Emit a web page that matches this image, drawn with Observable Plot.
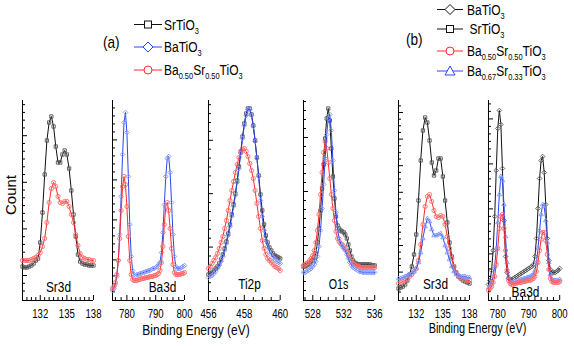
<!DOCTYPE html>
<html><head><meta charset="utf-8">
<script src="https://cdn.jsdelivr.net/npm/d3@7"></script>
<script src="https://cdn.jsdelivr.net/npm/@observablehq/plot@0.6"></script>
<style>
body{margin:0;background:#fff;}
#chart{position:relative;width:574px;height:346px;overflow:hidden;background:#fff;}
#chart svg{position:absolute;overflow:visible;}
</style></head><body><div id="chart"></div>
<script>
const FONT = '"Liberation Sans",Arial,sans-serif';

// ---------- energy grids (eV) ----------
const sr3dEnergy = d3.range(33).map(i => +(130 + i * 0.25).toFixed(2));
const ba3dAEnergy = d3.range(51).map(i => +(775 + i * 0.5).toFixed(1));
const ti2pEnergy = d3.range(41).map(i => +(456 + i * 0.1).toFixed(1));
const o1sEnergy = d3.range(47).map(i => +(526.8 + i * 0.2).toFixed(1));
const ba3dBEnergy = d3.range(47).map(i => +(777 + i * 0.5).toFixed(1));

// ---------- (a) Sr3d ----------
const sr3dA_SrTiO3 = [17,16.5,16.5,17,17.5,18.5,20,21,29,44,63,80,89,92,87,77,69,69,73,75,73,66,55,43,32,23,19.5,18.5,18,18,17.5,17.5,17.5];
const sr3dA_BST50 = [20,20,20,20,20.5,21,21.5,22.5,24,27,31,39,49,56,59,57,52,49,48.5,49.5,49.5,47,43,39,33,27.5,23.5,21.5,21,20.5,20.5,20,20];

// ---------- (a) Ba3d ----------
const ba3dA_BaTiO3 = [5,6,8,12,20,33,52,73,89,94,84,62,38,22,15,13,12.5,13,13,13.5,13.5,14,14,14.5,14.5,15,15,15.5,16,16,16.5,17,18,19,24,34,48,62,71,72,64,49,33,22,17,16,16,16,16.5,17,17.5];
const ba3dA_BST50 = [6,7,9,13,20,31,45,57,62,58,47,32,20,13,10.5,10,10,10,10.5,10.5,11,11,11,11.5,11.5,11.5,12,12,12,12.5,12.5,13,13.5,15,19,27,38,47,49,45,36,26,18,14,13,13,13,13,13.5,13.5,14];

// ---------- (a) Ti2p ----------
const ti2p_SrTiO3 = [13,13.5,14,15,16,17,18.5,20.5,23,26,29.5,33.5,38,43,48,53.5,60,67,74.5,82,88.5,93.5,96,96,93,87.5,80,71.5,62.5,53,45,38,32.5,29,26.5,25,23.5,22.5,22,21.5,21];
const ti2p_BaTiO3 = [11.5,12,12.5,13.5,14.5,16,17.5,19.5,22,25,28.5,32.5,37,42,47,52.5,59,66,73.5,81,87.5,92.5,95.5,95.5,92.5,87,79.5,71,62,50,42,35,30,27,24.5,23,21.5,20.5,19.5,19,18.5];
const ti2p_BST50 = [16,17,18.5,20,21.5,23.5,26,29,32,36,40,45,50,55,59.5,64,68,71.5,74,75.5,76,74.5,72,68.5,65,61,55,48.5,42,36,30,26,23,21,20,19,18,17,16.5,16,15];

// ---------- (a) O1s ----------
const o1s_SrTiO3 = [17,17,17.5,18,18.5,19.5,20,21.5,23.5,29,36,45,56,68,81,91,96,90,76,62,51,42,37.5,36,35,34.5,34,33,31,28,25,22,20,19,18.5,18,18,18,18,18,18,18,18,18,17.5,17.5,17.5];
const o1s_BaTiO3 = [14,14,14.5,15,15.5,16,17,18,19.5,22,27,35,46,58,71,83,91,93,85,70,55,44,36,31,28.5,27,26,25,23,21,19,17.5,16.5,16,15.5,15,14.5,14.5,14,14,14,14,14,14,14,14,14];
const o1s_BST50 = [17.5,18,18.5,19,20,21,22.5,25,29,35,43,53,64,74,79.5,76,69,61,53,46,40,34.5,31,29.5,28.5,28,27,26,24.5,22.5,21,19.5,18.5,18,17.5,17,17,16.5,16.5,16.5,16.5,16.5,16.5,16.5,16.5,16.5,16.5];

// ---------- (b) Sr3d ----------
const sr3dB_SrTiO3 = [6,6.5,7,8,10,13,17,23,33,50,70,85,91.5,89,80,69,62.5,65,71,71,62,50,39,29,22,17,14,12,11,10,9.5,9,8.5];
const sr3dB_BST50 = [8.5,9,9.5,10,11,12,13,14.5,16,20,28,38,47,52,53,49.5,45,42,41.5,42.5,42,38,32,26,21,17,14,12.5,11.5,11,10.5,10,10];
const sr3dB_BST67 = [11,11,11.5,12,12.5,13,13.5,14.5,16,19,24,31,37,41,39.5,35.5,32.5,32.5,33,33.5,31.5,27.5,24,20.5,17,14.5,13,12.5,12,12,12,11.5,11.5];

// ---------- (b) Ba3d ----------
const ba3dB_BaTiO3 = [8,10,15,25,42,65,86,95,88,66,40,22,14,11,10.5,10.5,11,11.5,12,12.5,13,13.5,14,14.5,15,15.5,16,16.5,17,18,22,31,46,61,70,72,64,48,31,20,15.5,14,14,14,14.5,15,16];
const ba3dB_BST67 = [6.5,7.5,9,12,17,26,39,53,62,60,48,32,19,12,9.5,9,9,9.5,9.5,10,10,10.5,10.5,11,11,11.5,11.5,12,12.5,13,15,19,26,35,43,48,47,40,29,19,13,10.5,10,10,10,10,10.5];
const ba3dB_BST50 = [5,6,7,9,12,18,26,36,42,43,36,25,15,10,8.5,8,8,8.5,8.5,9,9,9,9.5,9.5,9.5,10,10,10,10.5,11,12,14.5,19,25,30.5,34,34,30,23,15.5,11,9.5,9,9,9,9,9.5];

// ---------- tick labels ----------
const sr3dTicks = [132, 135, 138];
const ba3dTicks = [780, 790, 800];
const ti2pTicks = [456, 458, 460];
const o1sTicks = [528, 532, 536];
const panelNames = ["Sr3d", "Ba3d", "Ti2p", "O1s", "Sr3d", "Ba3d"];

// ---------- styles ----------
const STY = {
  black: {line: "#111", mark: "#555"},
  blue: {line: "#2a48ee", mark: "#7d95ff"},
  red: {line: "#ff2a2a", mark: "#ff6b6b"}
};

const panels = [
  {L: 22, R: 93, domain: [130, 138], ticks: sr3dTicks, minor: 0.5, y0: 12.5, ys: 23.3, yn: 6, lx: 36, ly: 9,
   series: [[sr3dEnergy, sr3dA_SrTiO3, "black", "square2"], [sr3dEnergy, sr3dA_BST50, "red", "circle"]]},
  {L: 112.3, R: 184.3, domain: [775, 800], ticks: ba3dTicks, minor: 2, y0: 20.3, ys: 20, yn: 5, lx: 50, ly: 9,
   series: [[ba3dAEnergy, ba3dA_BaTiO3, "blue", "diamond2"], [ba3dAEnergy, ba3dA_BST50, "red", "circle"]]},
  {L: 208.3, R: 280, domain: [456, 460], ticks: ti2pTicks, minor: 0.5, y0: 26.7, ys: 26.7, yn: 6, lx: 41, ly: 11,
   series: [[ti2pEnergy, ti2p_SrTiO3, "black", "square2"], [ti2pEnergy, ti2p_BST50, "red", "circle"], [ti2pEnergy, ti2p_BaTiO3, "blue", "diamond2"]]},
  {L: 303.3, R: 374.5, domain: [526.8, 536], ticks: o1sTicks, minor: 1, y0: 27.5, ys: 27, yn: 6, lx: 35, ly: 11,
   series: [[o1sEnergy, o1s_SrTiO3, "black", "square2"], [o1sEnergy, o1s_BST50, "red", "circle"], [o1sEnergy, o1s_BaTiO3, "blue", "diamond2"]]},
  {L: 398.3, R: 469.3, domain: [130, 138], ticks: sr3dTicks, minor: 0.5, y0: 14.2, ys: 13.3, yn: 4, lx: 37, ly: 12,
   series: [[sr3dEnergy, sr3dB_SrTiO3, "black", "square2"], [sr3dEnergy, sr3dB_BST50, "red", "circle"], [sr3dEnergy, sr3dB_BST67, "blue", "triangle2"]]},
  {L: 488.3, R: 559.5, domain: [777, 800], ticks: ba3dTicks, minor: 2, y0: 23.3, ys: 22.5, yn: 6, lx: 37, ly: 3,
   series: [[ba3dBEnergy, ba3dB_BaTiO3, "black", "diamond2"], [ba3dBEnergy, ba3dB_BST67, "blue", "triangle2"], [ba3dBEnergy, ba3dB_BST50, "red", "circle"]]}
];

const chart = document.getElementById("chart");
const ML = 14, MR = 14, MT = 5, MB = 30, TOP = 100, H = 200;

function squeeze(t, s, mode) {
  const bb = t.getBBox();
  const cx = mode === "start" ? bb.x : bb.x + bb.width / 2;
  const tr = t.getAttribute("transform") || "";
  t.setAttribute("transform", `${tr} translate(${cx},0) scale(${s},1) translate(${-cx},0)`);
}

panels.forEach((p, pi) => {
  const w = p.R - p.L;
  const span = p.domain[1] - p.domain[0];
  const px2x = span / w;
  const px2y = 100 / H;
  const yMajor = d3.range(0, 10).map(i => p.y0 + i * p.ys).filter(v => v <= 100);
  const yMinorAll = d3.range(-p.yn, 10 * p.yn).map(i => p.y0 + i * p.ys / p.yn).filter(v => v > 1 && v <= 100);
  const yMinor = yMinorAll.filter(v => !yMajor.some(m => Math.abs(m - v) < 0.01));
  const xAll = d3.range(Math.ceil(p.domain[0] / p.minor), Math.floor(p.domain[1] / p.minor) + 1).map(i => +(i * p.minor).toFixed(2));
  const xMinor = xAll.filter(v => !p.ticks.includes(v) && v > p.domain[0]);

  const marks = [
    Plot.ruleX([p.domain[0]], {y1: 0, y2: 100, stroke: "#000", strokeWidth: 1}),
    Plot.ruleY([0], {stroke: "#000", strokeWidth: 1}),
    Plot.ruleY(yMajor, {x1: p.domain[0], x2: p.domain[0] + 5 * px2x, stroke: "#000"}),
    Plot.ruleY(yMinor, {x1: p.domain[0], x2: p.domain[0] + 3 * px2x, stroke: "#000"}),
    Plot.ruleX(p.ticks, {y1: 0, y2: 5 * px2y, stroke: "#000"}),
    Plot.ruleX(xMinor, {y1: 0, y2: 3 * px2y, stroke: "#000"}),
    Plot.axisX({ticks: p.ticks, tickSize: 0, tickPadding: 8, fontSize: 13, tickFormat: d => String(d), label: null})
  ];
  p.series.forEach(([xs, ys, col, sym]) => {
    const rows = ys.map((v, i) => ({x: xs[i], y: v}));
    marks.push(Plot.line(rows, {x: "x", y: "y", stroke: STY[col].line, strokeWidth: 1}));
    marks.push(Plot.dot(rows, {x: "x", y: "y", symbol: sym, r: 2.1, stroke: STY[col].mark, strokeWidth: 0.9, fill: "none"}));
  });
  marks.push(Plot.text([panelNames[pi]], {frameAnchor: "bottom-left", dx: p.lx, dy: -p.ly, text: d => d, fontSize: 14.5, textAnchor: "middle", fill: "#000"}));

  const svg = Plot.plot({
    width: w + ML + MR, height: H + MT + MB,
    marginLeft: ML, marginRight: MR, marginTop: MT, marginBottom: MB,
    x: {domain: p.domain, axis: null},
    y: {domain: [0, 100], axis: null},
    style: {fontFamily: FONT, background: "transparent", color: "#000", fontSize: "13px"},
    marks
  });
  svg.style.left = (p.L - ML) + "px";
  svg.style.top = (TOP - MT) + "px";
  chart.appendChild(svg);
  svg.querySelectorAll("text").forEach(t => squeeze(t, t.textContent.length <= 3 ? 0.74 : 0.82, "middle"));
});

// ---------- overlay: legends, axis titles ----------
const NS = "http://www.w3.org/2000/svg";
const ov = document.createElementNS(NS, "svg");
ov.setAttribute("width", 574); ov.setAttribute("height", 346);
ov.style.left = "0px"; ov.style.top = "0px";
ov.setAttribute("font-family", FONT);
chart.appendChild(ov);

function el(tag, attrs, parent = ov) {
  const e = document.createElementNS(NS, tag);
  for (const k in attrs) e.setAttribute(k, attrs[k]);
  parent.appendChild(e);
  return e;
}
function chem(x, y, parts, size) {
  const t = el("text", {x, y, "font-size": size, fill: "#000"});
  let shift = 0;
  parts.forEach(([s, sub]) => {
    const ts = el("tspan", {}, t);
    const target = sub ? 4 : 0;
    ts.setAttribute("dy", target - shift);
    shift = target;
    if (sub) ts.setAttribute("font-size", size * 0.62);
    ts.textContent = s;
  });
  squeeze(t, 0.8, "start");
  return t;
}
function marker(sym, cx, cy, color) {
  if (sym === "square2") el("rect", {x: cx - 3.5, y: cy - 3.5, width: 7, height: 7, fill: "#fff", stroke: color, "stroke-width": 1});
  if (sym === "diamond2") el("path", {d: `M${cx},${cy - 5}L${cx + 5},${cy}L${cx},${cy + 5}L${cx - 5},${cy}Z`, fill: "#fff", stroke: color, "stroke-width": 1});
  if (sym === "circle") el("circle", {cx, cy, r: 4, fill: "#fff", stroke: color, "stroke-width": 1});
  if (sym === "triangle2") el("path", {d: `M${cx},${cy - 5}L${cx + 5},${cy + 4}L${cx - 5},${cy + 4}Z`, fill: "#fff", stroke: color, "stroke-width": 1});
}
const legendA = [
  {parts: [["SrTiO"], ["3", 1]], col: "black", sym: "square2"},
  {parts: [["BaTiO"], ["3", 1]], col: "blue", sym: "diamond2"},
  {parts: [["Ba"], ["0.50", 1], ["Sr"], ["0.50", 1], ["TiO"], ["3", 1]], col: "red", sym: "circle"}
];
const legendB = [
  {parts: [["BaTiO"], ["3", 1]], col: "black", sym: "diamond2"},
  {parts: [["SrTiO"], ["3", 1]], col: "black", sym: "square2"},
  {parts: [["Ba"], ["0.50", 1], ["Sr"], ["0.50", 1], ["TiO"], ["3", 1]], col: "red", sym: "circle"},
  {parts: [["Ba"], ["0.67", 1], ["Sr"], ["0.33", 1], ["TiO"], ["3", 1]], col: "blue", sym: "triangle2"}
];
const rowsA = [24.5, 47, 70];
const rowsB = [9.5, 29, 51, 71];
legendA.forEach((d, i) => {
  const y = rowsA[i];
  el("line", {x1: 134, x2: 162, y1: y, y2: y, stroke: STY[d.col].line, "stroke-width": 1});
  marker(d.sym, 148, y, STY[d.col].line);
  chem(164, y + 5.5, d.parts, 15);
});
legendB.forEach((d, i) => {
  const y = rowsB[i];
  el("line", {x1: 437, x2: 463, y1: y, y2: y, stroke: STY[d.col].line, "stroke-width": 1});
  marker(d.sym, 450, y, STY[d.col].line);
  chem(i === 1 ? 469.5 : 467, y + 5.5, d.parts, 15);
});
const ta = el("text", {x: 103, y: 48.5, "font-size": 16, fill: "#000"}); ta.textContent = "(a)"; squeeze(ta, 0.85, "start");
const tb = el("text", {x: 406, y: 45.5, "font-size": 16, fill: "#000"}); tb.textContent = "(b)"; squeeze(tb, 0.85, "start");
const xa = el("text", {x: 196, y: 335, "font-size": 15, "text-anchor": "middle", fill: "#000"}); xa.textContent = "Binding Energy (eV)"; squeeze(xa, 0.8, "middle");
const xb = el("text", {x: 477.5, y: 333, "font-size": 14, "text-anchor": "middle", fill: "#000"}); xb.textContent = "Binding Energy (eV)"; squeeze(xb, 0.78, "middle");
const cnt = el("text", {x: 0, y: 0, "font-size": 15, "text-anchor": "middle", fill: "#000", transform: "translate(15.5,195) rotate(-90)"}); cnt.textContent = "Count";
</script></body></html>
